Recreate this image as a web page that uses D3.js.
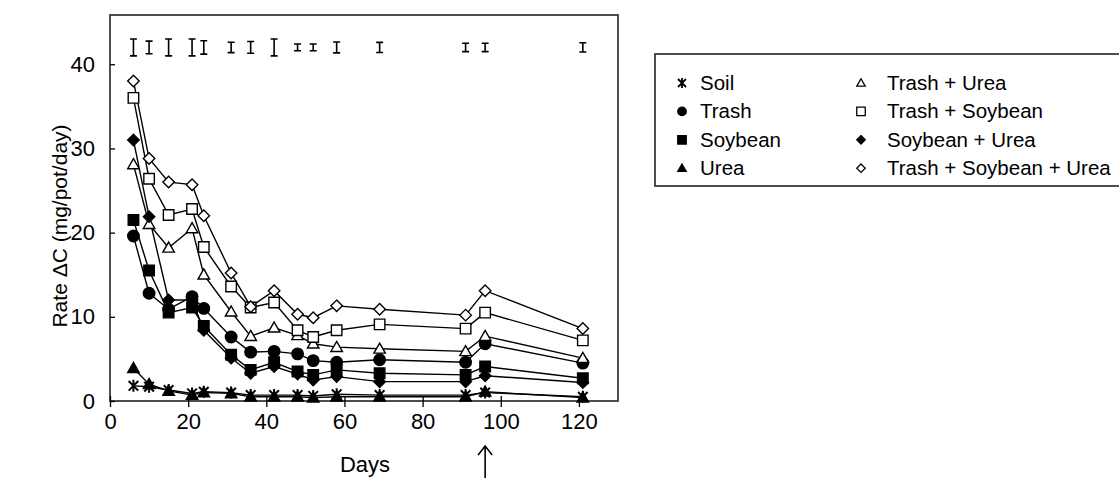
<!DOCTYPE html>
<html>
<head>
<meta charset="utf-8">
<script src="https://cdn.jsdelivr.net/npm/d3@7"></script>
<style>
  body { margin: 0; background: #fff; }
  svg { display: block; font-family: "Liberation Sans", Arial, sans-serif; }
</style>
</head>
<body>
<div id="chart"></div>
<script>
// sampling days
const days = [6, 10, 15, 21, 24, 31, 36, 42, 48, 52, 58, 69, 91, 96, 121];

// rate of C per treatment (mg/pot/day)
const soil        = [1.8, 1.7, 1.3, 0.9, 1.1, 1.0, 0.7, 0.7, 0.7, 0.6, 0.8, 0.7, 0.7, 1.0, 0.5];
const trash       = [19.6, 12.8, 10.9, 12.4, 11.0, 7.6, 5.8, 5.9, 5.6, 4.8, 4.6, 4.9, 4.6, 6.8, 4.5];
const soybean     = [21.5, 15.5, 10.5, 11.1, 8.9, 5.5, 3.7, 4.6, 3.5, 3.1, 3.7, 3.3, 3.1, 4.1, 2.7];
const urea        = [3.9, 2.0, 1.2, 0.7, 1.0, 0.9, 0.5, 0.5, 0.5, 0.4, 0.5, 0.5, 0.5, 1.1, 0.4];
const trashUrea   = [28.1, 21.0, 18.2, 20.5, 15.0, 10.6, 7.7, 8.7, 7.8, 6.8, 6.4, 6.2, 5.9, 7.7, 5.1];
const trashSoy    = [36.0, 26.4, 22.1, 22.8, 18.3, 13.6, 11.1, 11.7, 8.4, 7.6, 8.4, 9.1, 8.6, 10.5, 7.2];
const soyUrea     = [31.0, 21.9, 12.0, 12.0, 8.4, 5.1, 3.3, 4.1, 3.2, 2.5, 2.9, 2.3, 2.3, 3.0, 2.2];
const trashSoyUrea= [38.0, 28.8, 26.0, 25.7, 22.0, 15.2, 11.2, 13.1, 10.3, 9.9, 11.3, 10.9, 10.2, 13.1, 8.6];

// LSD bars shown along the top
const errCenter = [42, 42, 42, 42, 42, 42, 42, 42, 42, 42, 42, 42, 42, 42, 42];
const errHalf   = [1.0, 0.75, 1.0, 1.0, 0.8, 0.62, 0.7, 1.0, 0.4, 0.4, 0.65, 0.6, 0.5, 0.5, 0.55];

const xTicks = [0, 20, 40, 60, 80, 100, 120];
const yTicks = [0, 10, 20, 30, 40];

const series = [
  {name: "Soil", values: soil, shape: "star", fill: "#000"},
  {name: "Trash", values: trash, shape: "circle", fill: "#000"},
  {name: "Soybean", values: soybean, shape: "square", fill: "#000"},
  {name: "Urea", values: urea, shape: "triangle", fill: "#000"},
  {name: "Trash + Urea", values: trashUrea, shape: "triangle", fill: "#fff"},
  {name: "Trash + Soybean", values: trashSoy, shape: "square", fill: "#fff"},
  {name: "Soybean + Urea", values: soyUrea, shape: "diamond", fill: "#000"},
  {name: "Trash + Soybean + Urea", values: trashSoyUrea, shape: "diamond", fill: "#fff"}
];

const W = 1119, H = 492;
const plot = {left: 110, right: 618, top: 15, bottom: 401};

const svg = d3.select("#chart").append("svg")
  .attr("width", W).attr("height", H);

const x = d3.scaleLinear().domain([0, 130]).range([plot.left, plot.right]);
const y = d3.scaleLinear().domain([0, 45.85]).range([plot.bottom, plot.top]);

// marker paths, s = size in px
function marker(shape, s) {
  const h = s / 2;
  if (shape === "circle") return d3.symbol(d3.symbolCircle, Math.PI * h * h)();
  if (shape === "square") return `M${-h},${-h}H${h}V${h}H${-h}Z`;
  if (shape === "diamond") return `M0,${-h}L${h},0L0,${h}L${-h},0Z`;
  if (shape === "triangle") return `M0,${-h}L${h},${h * 0.75}L${-h},${h * 0.75}Z`;
  // star: vertical line plus an x
  const d = h * 0.8;
  return `M0,${-h}V${h}M${-d},${-d}L${d},${d}M${d},${-d}L${-d},${d}`;
}

// plot frame
svg.append("rect")
  .attr("x", plot.left).attr("y", plot.top)
  .attr("width", plot.right - plot.left).attr("height", plot.bottom - plot.top)
  .attr("fill", "none").attr("stroke", "#222").attr("stroke-width", 1.6);

// x axis, ticks cross the line
const xAxis = svg.append("g")
  .attr("transform", `translate(0,${plot.bottom})`)
  .call(d3.axisBottom(x).tickValues(xTicks).tickSize(0).tickPadding(12));
xAxis.select(".domain").remove();
xAxis.selectAll(".tick").append("line")
  .attr("y1", -5).attr("y2", 6).attr("stroke", "#000").attr("stroke-width", 1.3);
xAxis.selectAll("text").attr("font-size", 22).attr("fill", "#000")
  .attr("font-family", "Liberation Sans, Arial, sans-serif");

// y axis, ticks inside
const yAxis = svg.append("g")
  .attr("transform", `translate(${plot.left},0)`)
  .call(d3.axisRight(y).tickValues(yTicks).tickSize(5).tickPadding(0));
yAxis.select(".domain").remove();
yAxis.selectAll("line").attr("stroke", "#000").attr("stroke-width", 1.3);
yAxis.selectAll("text")
  .attr("x", -15).attr("text-anchor", "end")
  .attr("font-size", 22).attr("fill", "#000")
  .attr("font-family", "Liberation Sans, Arial, sans-serif");

// axis titles
svg.append("text")
  .attr("transform", `translate(67,226) rotate(-90)`)
  .attr("text-anchor", "middle")
  .attr("font-size", 21)
  .text("Rate ΔC (mg/pot/day)");

svg.append("text")
  .attr("x", 365).attr("y", 472)
  .attr("text-anchor", "middle")
  .attr("font-size", 22)
  .text("Days");

// arrow under day 96
const ax = x(96);
svg.append("path")
  .attr("d", `M${ax},478V446M${ax - 7},455L${ax},446L${ax + 7},455`)
  .attr("fill", "none").attr("stroke", "#000").attr("stroke-width", 1.6);

// error bars
const eb = svg.append("g").attr("class", "errbars");
days.forEach((d, i) => {
  const cx = x(d), y0 = y(errCenter[i] - errHalf[i]), y1 = y(errCenter[i] + errHalf[i]);
  eb.append("path")
    .attr("d", `M${cx},${y0}V${y1}M${cx - 3.5},${y0}H${cx + 3.5}M${cx - 3.5},${y1}H${cx + 3.5}`)
    .attr("fill", "none").attr("stroke", "#000").attr("stroke-width", 1.6);
});

// lines
const line = d3.line().x((d, i) => x(days[i])).y(d => y(d));
series.forEach(s => {
  svg.append("path")
    .datum(s.values)
    .attr("d", line)
    .attr("fill", "none").attr("stroke", "#000").attr("stroke-width", 1.4);
});

// markers
series.forEach(s => {
  const size = s.shape === "star" ? 12 : (s.shape === "square" ? 10.5 : 11.5);
  svg.append("g").selectAll("path")
    .data(s.values)
    .join("path")
      .attr("transform", (d, i) => `translate(${x(days[i])},${y(d)})`)
      .attr("d", marker(s.shape, size))
      .attr("fill", s.shape === "star" ? "none" : s.fill)
      .attr("stroke", "#000")
      .attr("stroke-width", s.shape === "star" ? 2 : 1.4);
});

// legend
const lg = svg.append("g");
lg.append("rect")
  .attr("x", 655).attr("y", 54)
  .attr("width", 480).attr("height", 132)
  .attr("fill", "#fff").attr("stroke", "#222").attr("stroke-width", 1.6);

series.forEach((s, i) => {
  const col = Math.floor(i / 4), row = i % 4;
  const mx = col === 0 ? 682 : 861;
  const my = 83 + row * 28.4;
  lg.append("path")
    .attr("transform", `translate(${mx},${my})`)
    .attr("d", marker(s.shape, s.shape === "star" ? 10 : 8.5))
    .attr("fill", s.shape === "star" ? "none" : s.fill)
    .attr("stroke", "#000").attr("stroke-width", s.shape === "star" ? 1.8 : 1.3);
  lg.append("text")
    .attr("x", col === 0 ? 700 : 887).attr("y", my + 7)
    .attr("font-size", 20.5)
    .text(s.name);
});
</script>
</body>
</html>
